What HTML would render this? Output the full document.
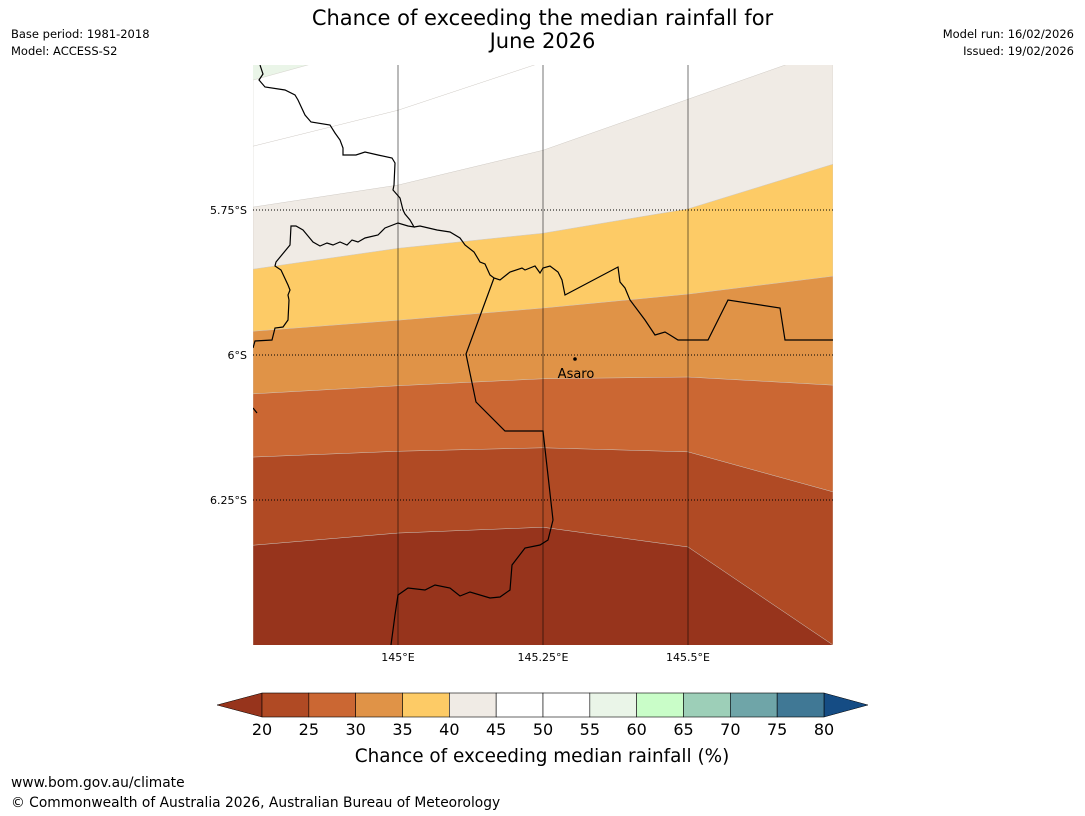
<!DOCTYPE html>
<html><head><meta charset="utf-8">
<style>
body{margin:0;background:#fff;font-family:"Liberation Sans","DejaVu Sans",sans-serif;}
#wrap{position:relative;width:1085px;height:816px;overflow:hidden;}
.t{position:absolute;white-space:nowrap;color:#000;}
</style></head>
<body>
<div id="wrap">
<div class="t" style="left:0;width:1085px;top:7px;text-align:center;font-size:21px;line-height:23px;font-family:'DejaVu Sans',sans-serif;">Chance of exceeding the median rainfall for<br>June 2026</div>
<div class="t" style="left:11px;top:27px;font-size:11.5px;font-family:'DejaVu Sans',sans-serif;">Base period: 1981-2018</div>
<div class="t" style="left:11px;top:44px;font-size:11.5px;font-family:'DejaVu Sans',sans-serif;">Model: ACCESS-S2</div>
<div class="t" style="right:11px;top:27px;font-size:11.5px;font-family:'DejaVu Sans',sans-serif;">Model run: 16/02/2026</div>
<div class="t" style="right:11px;top:44px;font-size:11.5px;font-family:'DejaVu Sans',sans-serif;">Issued: 19/02/2026</div>
<div class="t" style="left:11px;top:775px;font-size:13.8px;font-family:'DejaVu Sans',sans-serif;">www.bom.gov.au/climate</div>
<div class="t" style="left:11px;top:795px;font-size:13.8px;font-family:'DejaVu Sans',sans-serif;">© Commonwealth of Australia 2026, Australian Bureau of Meteorology</div>
<svg id="svg" width="1085" height="816" style="position:absolute;left:0;top:0"></svg>
</div>
<script>
const lons=[144.75,145.0,145.25,145.5,145.75];
const b55=[5.526,5.457,5.40,5.35,5.30];
const b50=[5.640,5.578,5.495,5.422,5.353];
const b45=[5.745,5.707,5.647,5.559,5.471];
const b40=[5.852,5.816,5.790,5.748,5.671];
const b35=[5.959,5.940,5.919,5.895,5.864];
const b30=[6.067,6.053,6.041,6.038,6.052];
const b25=[6.176,6.166,6.160,6.167,6.236];
const b20=[6.328,6.307,6.297,6.331,6.500];
const lonTicks=["145°E","145.25°E","145.5°E"];
const lonTickVals=[145.0,145.25,145.5];
const latTicks=["5.75°S","6°S","6.25°S"];
const latTickVals=[5.75,6.0,6.25];
const cbLevels=[20,25,30,35,40,45,50,55,60,65,70,75,80];
const cbColors=["#b04a24","#cb6733","#e09347","#fdcb66","#f0ebe5","#ffffff","#ffffff","#eaf5e8","#c9fdc8","#9dcfb8","#6fa5a8","#407895"];

const NS="http://www.w3.org/2000/svg";
const svg=document.getElementById('svg');
const X0=253,X1=833,Y0=65,Y1=645;
const xS=lon=>X0+(lon-144.75)/1.0*(X1-X0);
const yS=lat=>Y0+(lat-5.5)/1.0*(Y1-Y0);
function el(tag,attrs,parent){const e=document.createElementNS(NS,tag);for(const k in attrs)e.setAttribute(k,attrs[k]);(parent||svg).appendChild(e);return e;}
const defs=el('defs',{});
const cp=el('clipPath',{id:'mapclip'},defs);
el('rect',{x:X0,y:Y0,width:X1-X0,height:Y1-Y0},cp);
const g=el('g',{'clip-path':'url(#mapclip)'});


const bg=el('rect',{x:X0,y:Y0,width:X1-X0,height:Y1-Y0,fill:'#ffffff'},g);
function band(arr,color,name){
  let d='M'+xS(lons[0])+','+yS(arr[0]);
  for(let i=1;i<lons.length;i++)d+=' L'+xS(lons[i])+','+yS(arr[i]);
  d+=' L'+X1+','+(Y1+50)+' L'+X0+','+(Y1+50)+' Z';
  const p=el('path',{d:d,fill:color,stroke:'#cfcac4','stroke-width':0.5},g);
  
  
}
{
  let d='M'+X0+','+(Y0-50);
  for(let i=0;i<lons.length;i++)d+=' L'+xS(lons[i])+','+yS(b55[i]);
  d+=' L'+X1+','+(Y0-50)+' Z';
  const p=el('path',{d:d,fill:'#eaf5e8'},g);
  
  
}
{
  let d='M'+X0+','+(Y1+50)+' L'+X0+','+yS(b55[0]);
  for(let i=1;i<lons.length;i++)d+=' L'+xS(lons[i])+','+yS(b55[i]);
  d+=' L'+X1+','+(Y1+50)+' Z';
  const p=el('path',{d:d,fill:'#ffffff',stroke:'#d8d8d0','stroke-width':0.6},g);
  
  
}
band(b50,'#ffffff','band-45-50');
band(b45,'#f0ebe5','band-40-45');
band(b40,'#fdcb66','band-35-40');
band(b35,'#e09347','band-30-35');
band(b30,'#cb6733','band-25-30');
band(b25,'#b04a24','band-20-25');
band(b20,'#97341c','band-below-20');
lonTickVals.forEach((v,i)=>{
  const l=el('line',{x1:xS(v),x2:xS(v),y1:Y0,y2:Y1,stroke:'#000','stroke-opacity':0.45,'stroke-width':1.2},g);
  
  
  const t=el('text',{x:xS(v),y:Y1+16,'font-size':11,'text-anchor':'middle','font-family':'DejaVu Sans, sans-serif'});
  t.textContent=lonTicks[i];
  
  
});
latTickVals.forEach((v,i)=>{
  const l=el('line',{x1:X0,x2:X1,y1:yS(v),y2:yS(v),stroke:'#000','stroke-width':1,'stroke-dasharray':'1,2'},g);
  
  
  const t=el('text',{x:X0-6,y:yS(v)+4,'font-size':11,'text-anchor':'end','font-family':'DejaVu Sans, sans-serif'});
  t.textContent=latTicks[i];
  
  
});
const coast="M260,65 L263,74 L259,80 L265,87 L285,90 L295,95 L298,100 L305,115 L311,122 L330,125 L335,133 L340,140 L343,148 L343,155 L356,155 L365,152 L378,155 L392,158 L395,163 L394,185 L393,190 L400,198 L403,210 L405,214 L410,220 L414,227 L408,226 L398,223 L385,228 L378,235 L365,238 L358,242 L352,240 L347,245 L340,242 L333,245 L327,243 L320,246 L313,242 L308,236 L303,230 L296,226 L291,226 L290,245 L276,262 L275,266 L281,270 L288,285 L290,290 L288,295 L289,300 L288,320 L283,327 L275,328 L272,340 L255,341 L253,348 M414,227 L420,226 L437,230 L450,232 L460,238 L465,245 L474,252 L480,262 L485,264 L490,275 L494,278 L500,280 L510,272 L522,268 L525,270 L535,266 L540,273 L543,268 L550,266 L558,272 L562,280 L565,295 L618,267 L620,282 L625,288 L630,300 L645,320 L655,335 L665,332 L670,335 L678,340 L708,340 L728,300 L780,308 L785,340 L833,340 M494,278 L466,354 L476,402 L505,431 L543,431 L553,520 L548,540 L540,545 L525,548 L512,565 L510,590 L500,597 L490,598 L470,592 L460,596 L450,588 L435,585 L425,590 L408,588 L398,595 L395,615 L391,645 M253,408 L257,413";
const bp=el('path',{d:coast,fill:'none',stroke:'#000','stroke-width':1.2},g);


const dot=el('circle',{cx:575,cy:359,r:1.8,fill:'#000'});


const at=el('text',{x:576,y:378,'font-size':13,'text-anchor':'middle','font-family':'DejaVu Sans, sans-serif'});
at.textContent='Asaro';


const CB0=262,CB1=824,CBY=693,CBH=24;
const cx=v=>CB0+(v-20)/60*(CB1-CB0);
const lt=el('path',{d:`M${CB0},${CBY} L217,${CBY+CBH/2} L${CB0},${CBY+CBH} Z`,fill:'#97341c',stroke:'#000','stroke-width':0.5});


const rt=el('path',{d:`M${CB1},${CBY} L868,${CBY+CBH/2} L${CB1},${CBY+CBH} Z`,fill:'#154c84',stroke:'#000','stroke-width':0.5});


cbColors.forEach((c,i)=>{
  const r=el('rect',{x:cx(cbLevels[i]),y:CBY,width:cx(cbLevels[i+1])-cx(cbLevels[i]),height:CBH,fill:c,stroke:'#000','stroke-width':0.6});
  
  
});
cbLevels.forEach(v=>{
  const t=el('text',{x:cx(v),y:CBY+CBH+18,'font-size':16,'text-anchor':'middle','font-family':'DejaVu Sans, sans-serif'});
  t.textContent=v;
  
  
});
const ct=el('text',{x:542,y:762,'font-size':18.4,'text-anchor':'middle','font-family':'DejaVu Sans, sans-serif'});
ct.textContent='Chance of exceeding median rainfall (%)';


</script>
</body></html>
